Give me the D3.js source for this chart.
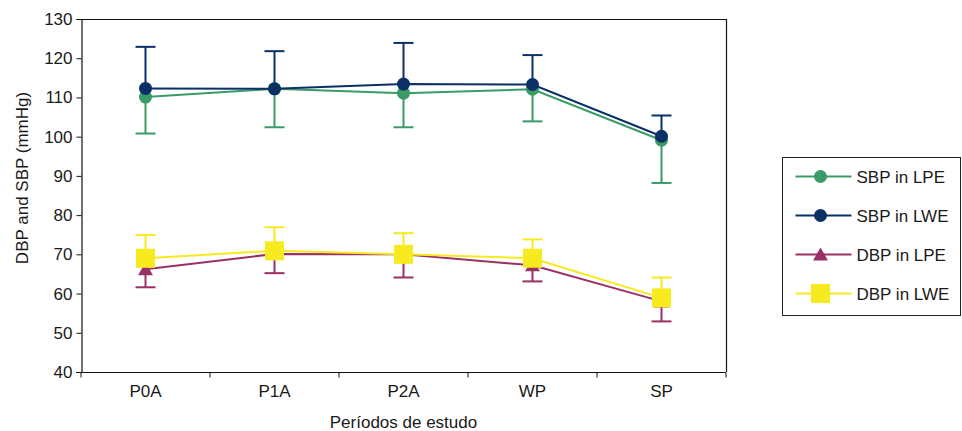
<!DOCTYPE html>
<html>
<head>
<meta charset="utf-8">
<script src="https://cdn.jsdelivr.net/npm/d3@7"></script>
<style>
  body { margin: 0; background: #fff; }
  svg text { font-family: "Liberation Sans", Arial, sans-serif; fill: #1a1a1a; }
</style>
</head>
<body>
<svg id="chart" width="962" height="431"></svg>
<script>
// chart data
const periods = ['P0A', 'P1A', 'P2A', 'WP', 'SP']
const yTicks = [40, 50, 60, 70, 80, 90, 100, 110, 120, 130]
const sbpLPE = [110.1, 112.2, 111.1, 112.1, 99.1]
const sbpLPELow = [100.8, 102.4, 102.4, 103.9, 88.2]
const sbpLWE = [112.3, 112.2, 113.4, 113.3, 100.1]
const sbpLWEHigh = [122.9, 121.8, 123.9, 120.8, 105.4]
const dbpLPE = [66.2, 70.1, 70.0, 67.2, 58.0]
const dbpLPELow = [61.6, 65.2, 64.1, 63.1, 52.9]
const dbpLWE = [69.0, 70.9, 70.0, 69.0, 58.9]
const dbpLWEHigh = [74.9, 76.9, 75.4, 73.8, 64.1]

const seriesNames = ['SBP in LPE', 'SBP in LWE', 'DBP in LPE', 'DBP in LWE']

const fontSize = 17
const margin = { left: 81, top: 19, right: 236, bottom: 59 }
const w = 962 - margin.left - margin.right
const h = 431 - margin.top - margin.bottom

const svg = d3.select('#chart')
const g = svg.append('g').attr('transform', `translate(${margin.left},${margin.top})`)

const x = d3.scaleBand().domain(periods).range([0, w])
const y = d3.scaleLinear().domain([40, 130]).range([h, 0])
const cx = (p) => x(p) + x.bandwidth() / 2

// frame top / right
g.append('path')
  .attr('d', `M0,0.5H${w + 0.5}V${h}`)
  .attr('fill', 'none').attr('stroke', '#111').attr('stroke-width', 1.2)

// y axis
const yAxis = g.append('g').attr('transform', 'translate(0.5,0)')
  .call(d3.axisLeft(y).tickValues(yTicks).tickSize(5).tickPadding(4))
yAxis.select('.domain').attr('stroke', '#111').attr('stroke-width', 1.2)
yAxis.selectAll('.tick line').attr('stroke', '#111')
yAxis.selectAll('text').attr('font-size', fontSize).attr('font-family', 'Liberation Sans').attr('fill', '#1a1a1a')

// x axis: ticks on band edges
const xAxis = g.append('g').attr('transform', `translate(0,${h + 0.5})`)
xAxis.append('line').attr('x1', -5).attr('x2', w).attr('stroke', '#111').attr('stroke-width', 1.2)
const edges = periods.map((p) => x(p)).concat([w])
xAxis.selectAll('.edge').data(edges).join('line')
  .attr('x1', (d) => d).attr('x2', (d) => d)
  .attr('y1', 0).attr('y2', 5).attr('stroke', '#111')
xAxis.selectAll('.lbl').data(periods).join('text')
  .attr('x', (d) => cx(d)).attr('y', 24)
  .attr('text-anchor', 'middle').attr('font-size', fontSize)
  .text((d) => d)

// axis titles
svg.append('text')
  .attr('x', margin.left + w / 2).attr('y', 428)
  .attr('text-anchor', 'middle').attr('font-size', fontSize)
  .text('Períodos de estudo')
svg.append('text')
  .attr('transform', 'translate(28,178) rotate(-90)')
  .attr('text-anchor', 'middle').attr('font-size', fontSize)
  .text('DBP and SBP (mmHg)')

const colors = ['#3a9b66', '#0a3066', '#993166', '#f7ea1f']
const line = d3.line().x((d, i) => cx(periods[i])).y((d) => y(d))

const errBars = (vals, ends, color) => {
  const eg = g.append('g').attr('stroke', color).attr('stroke-width', 2).attr('fill', 'none')
  vals.forEach((v, i) => {
    const px = cx(periods[i])
    eg.append('line').attr('x1', px).attr('x2', px).attr('y1', y(v)).attr('y2', y(ends[i]))
    eg.append('line').attr('x1', px - 10).attr('x2', px + 10).attr('y1', y(ends[i])).attr('y2', y(ends[i]))
  })
}

const drawMarker = (sel, type, color, px, py) => {
  if (type === 'circle') {
    sel.append('circle').attr('cx', px).attr('cy', py).attr('r', 6.5).attr('fill', color)
  } else if (type === 'triangle') {
    sel.append('path').attr('d', `M${px},${py - 7}L${px + 7.5},${py + 6}L${px - 7.5},${py + 6}Z`).attr('fill', color)
  } else {
    sel.append('rect').attr('x', px - 9.5).attr('y', py - 9.5).attr('width', 19).attr('height', 19).attr('fill', color)
  }
}

const drawSeries = (vals, color, type) => {
  g.append('path').datum(vals).attr('d', line)
    .attr('fill', 'none').attr('stroke', color).attr('stroke-width', 2)
  vals.forEach((v, i) => drawMarker(g, type, color, cx(periods[i]), y(v)))
}

errBars(sbpLPE, sbpLPELow, colors[0])
errBars(sbpLWE, sbpLWEHigh, colors[1])
errBars(dbpLPE, dbpLPELow, colors[2])
errBars(dbpLWE, dbpLWEHigh, colors[3])
drawSeries(sbpLPE, colors[0], 'circle')
drawSeries(sbpLWE, colors[1], 'circle')
drawSeries(dbpLPE, colors[2], 'triangle')
drawSeries(dbpLWE, colors[3], 'square')

// legend
const types = ['circle', 'circle', 'triangle', 'square']
const legend = svg.append('g').attr('transform', 'translate(782.5,157.5)')
legend.append('rect').attr('width', 178).attr('height', 158)
  .attr('fill', '#fff').attr('stroke', '#222').attr('stroke-width', 1)
seriesNames.forEach((name, i) => {
  const ly = 19 + i * 39
  legend.append('line').attr('x1', 13).attr('x2', 69).attr('y1', ly).attr('y2', ly)
    .attr('stroke', colors[i]).attr('stroke-width', 2)
  drawMarker(legend, types[i], colors[i], 38, ly)
  legend.append('text').attr('x', 74).attr('y', ly + 6).attr('font-size', fontSize).text(name)
})
</script>
</body>
</html>
